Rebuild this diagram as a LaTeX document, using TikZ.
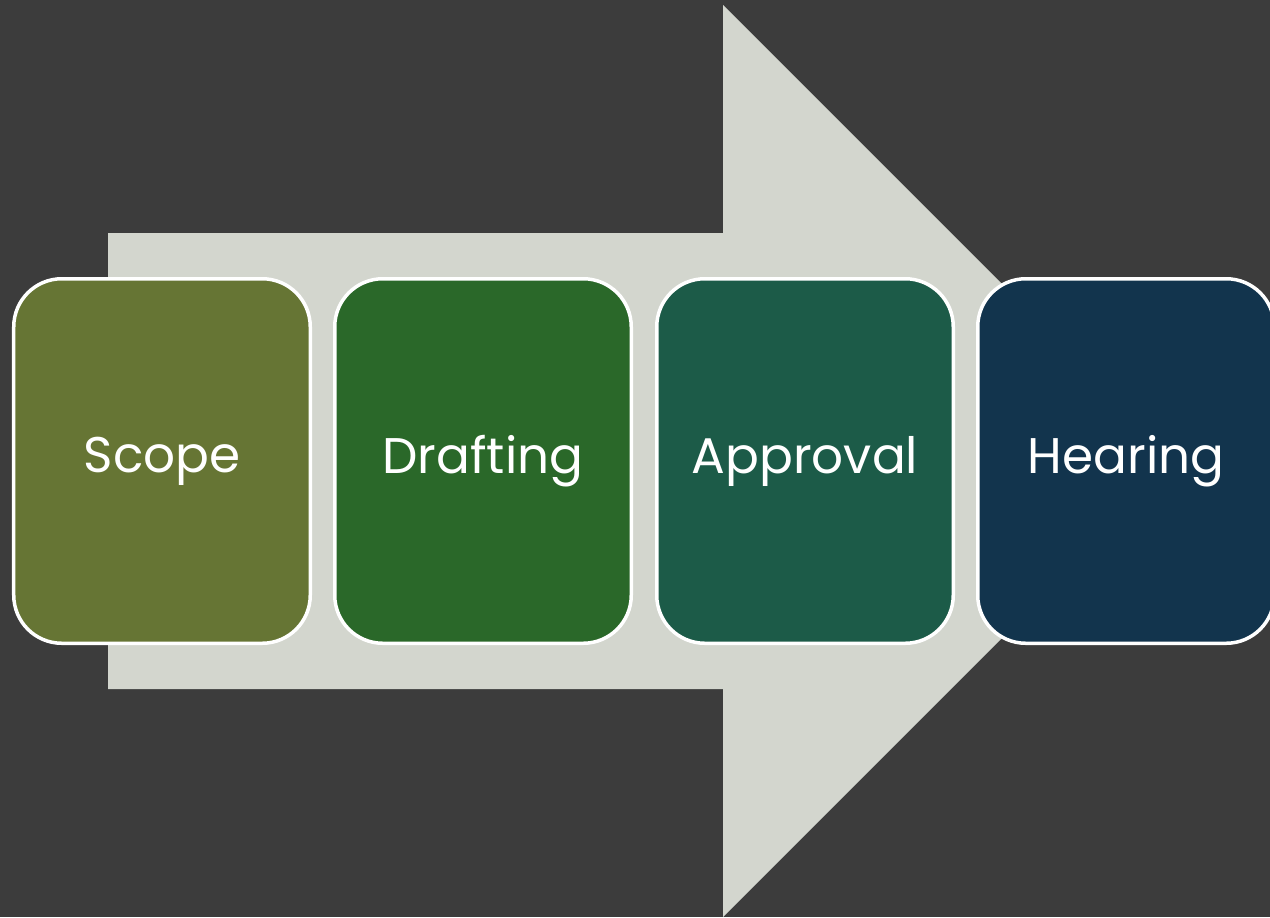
\documentclass[tikz,border=0pt]{standalone}
\usepackage{fontspec}
\setmainfont{Poppins}
\definecolor{backdrop}{HTML}{3C3C3C}
\definecolor{arrowgray}{HTML}{D3D6CE}
\definecolor{scopegreen}{HTML}{667534}
\definecolor{draftgreen}{HTML}{2A6829}
\definecolor{approvalteal}{HTML}{1C5B48}
\definecolor{hearingblue}{HTML}{12344D}
\begin{document}
\begin{tikzpicture}[x=0.2mm, y=-0.2mm,
    stage/.style={rectangle, rounded corners=9.6mm, draw=white, line width=0.7mm,
        minimum width=59.3mm, minimum height=72.9mm, text=white,
        font=\fontsize{28.5}{34}\selectfont}]
            % Fundo
            \useasboundingbox (0,0) rectangle (1270,917);
            \fill[backdrop] (0,0) rectangle (1270,917);
            % Seta grande
            \fill[arrowgray] (108,233) -- (723,233) -- (723,5) -- (1179,461)
                -- (723,917) -- (723,689) -- (108,689) -- cycle;
            % Etapas
            \node at (162,461) (scope) [stage, fill=scopegreen] {Scope};
            \node at (483,461) (drafting) [stage, fill=draftgreen] {Drafting};
            \node at (805,461) (approval) [stage, fill=approvalteal] {Approval};
            \node at (1126,461) (hearing) [stage, fill=hearingblue] {Hearing};
        \end{tikzpicture}
\end{document}
